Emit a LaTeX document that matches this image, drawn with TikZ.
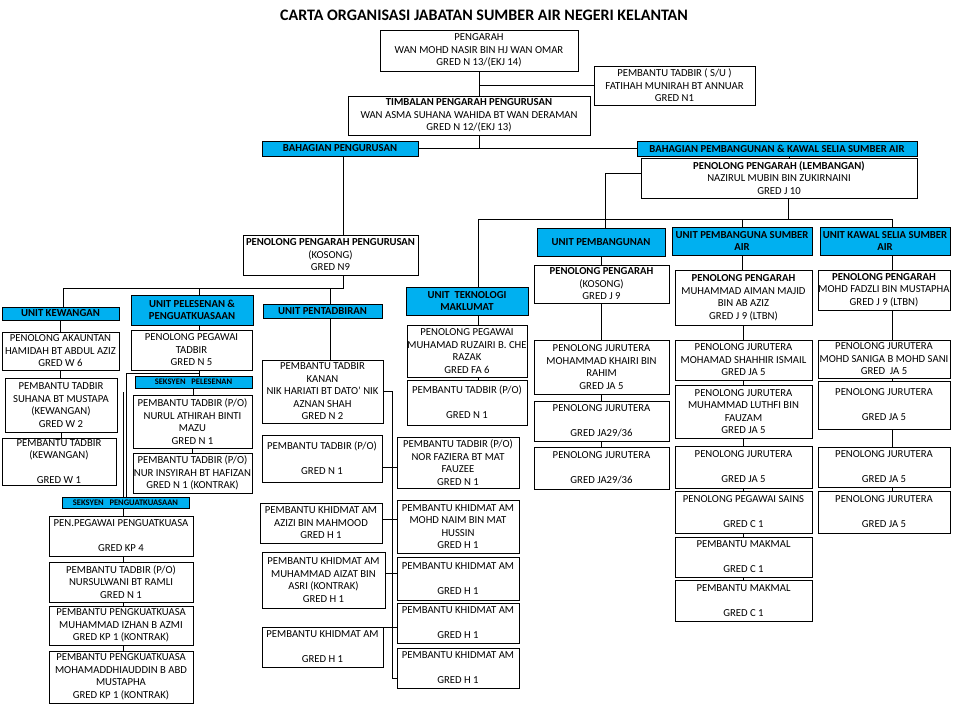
\documentclass[tikz,border=0pt]{standalone}
\usepackage{fontspec}
\setmainfont{Carlito}
\usepackage{tikz}
\definecolor{biru}{HTML}{00B0F0}
\tikzstyle{kotak} = [draw, line width=0.8pt, align=center, inner sep=0.5pt, font=\fontsize{10.7}{12.5}\selectfont]
\tikzstyle{kepala} = [kotak, fill=biru, font=\fontsize{10.7}{12.5}\selectfont\bfseries]
\tikzstyle{seksyen} = [kotak, fill=biru, font=\fontsize{8.5}{10}\selectfont\bfseries]
\tikzstyle{garis} = [draw, line width=0.9pt]
\begin{document}
\begin{tikzpicture}[x=1pt, y=-1pt]
            \useasboundingbox (0,0) rectangle (960,720);
            \fill [white] (0,0) rectangle (960,720);
                \node [font=\fontsize{16}{18}\selectfont\bfseries] (judul) at (484,15) {CARTA ORGANISASI JABATAN SUMBER AIR NEGERI KELANTAN};
                \node [kotak, minimum width=198, minimum height=41] (pengarah) at (479,50.5) {PENGARAH\\WAN MOHD NASIR BIN HJ WAN OMAR\\GRED N 13/(EKJ 14)};
                \node [kotak, minimum width=161, minimum height=39] (pts) at (674.5,85.5) {PEMBANTU TADBIR ( S/U )\\FATIHAH MUNIRAH BT ANNUAR\\GRED N1};
                \node [kotak, minimum width=242, minimum height=39] (timbalan) at (469,115.5) {\textbf{TIMBALAN PENGARAH PENGURUSAN}\\WAN ASMA SUHANA WAHIDA BT WAN DERAMAN\\GRED N 12/(EKJ 13)};
                \node [kepala, minimum width=156, minimum height=15] (bpeng) at (340,148.5) {BAHAGIAN PENGURUSAN};
                \node [kepala, minimum width=280, minimum height=15] (bpkw) at (777,148.5) {BAHAGIAN PEMBANGUNAN \& KAWAL SELIA SUMBER AIR};
                \node [kotak, minimum width=276, minimum height=40] (lembangan) at (779,178) {\textbf{PENOLONG PENGARAH (LEMBANGAN)}\\NAZIRUL MUBIN BIN ZUKIRNAINI\\GRED J 10};
                \node [kotak, minimum width=175, minimum height=40] (ppp) at (330.5,255) {\textbf{PENOLONG PENGARAH PENGURUSAN}\\(KOSONG)\\GRED N9};
                \node [kepala, minimum width=117, minimum height=13] (ukew) at (60.5,313.5) {UNIT KEWANGAN};
                \node [kepala, minimum width=122, minimum height=30] (upel) at (192,310) {UNIT PELESENAN \&\\PENGUATKUASAAN};
                \node [kepala, minimum width=119, minimum height=14] (upen) at (322.5,311) {UNIT PENTADBIRAN};
                \node [kotak, minimum width=117, minimum height=38] (hamidah) at (60.5,351) {PENOLONG AKAUNTAN\\HAMIDAH BT ABDUL AZIZ\\GRED W 6};
                \node [kotak, minimum width=112, minimum height=54] (suhana) at (61,405) {PEMBANTU TADBIR\\SUHANA BT MUSTAPA\\(KEWANGAN)\\GRED W 2};
                \node [kotak, minimum width=114, minimum height=47] (kewsatu) at (59,461.5) {PEMBANTU TADBIR\\(KEWANGAN)\\[12.5pt]GRED W 1};
                \node [kotak, minimum width=121, minimum height=40] (ppt) at (191.5,350) {PENOLONG PEGAWAI\\TADBIR\\GRED N 5};
                \node [seksyen, minimum width=117, minimum height=12] (spel) at (193.5,382) {SEKSYEN~~~PELESENAN};
                \node [kotak, minimum width=119, minimum height=53] (nurul) at (192.5,421.5) {PEMBANTU TADBIR (P/O)\\NURUL ATHIRAH BINTI\\MAZU\\GRED N 1};
                \node [kotak, minimum width=119, minimum height=40] (insyirah) at (192.5,473) {PEMBANTU TADBIR (P/O)\\NUR INSYIRAH BT HAFIZAN\\GRED N 1 (KONTRAK)};
                \node [seksyen, minimum width=127, minimum height=11] (spen) at (125.5,502.5) {SEKSYEN~~~PENGUATKUASAAN};
                \node [kotak, minimum width=144, minimum height=40] (pppk) at (121,536) {PEN.PEGAWAI PENGUATKUASA\\[12.5pt]GRED KP 4};
                \node [kotak, minimum width=144, minimum height=40] (nursulwani) at (121,582) {PEMBANTU TADBIR (P/O)\\NURSULWANI BT RAMLI\\GRED N 1};
                \node [kotak, minimum width=144, minimum height=39] (izhan) at (121,625.5) {PEMBANTU PENGKUATKUASA\\MUHAMMAD IZHAN B AZMI\\GRED KP 1 (KONTRAK)};
                \node [kotak, minimum width=144, minimum height=52] (dhiauddin) at (121,677) {PEMBANTU PENGKUATKUASA\\MOHAMADDHIAUDDIN B ABD\\MUSTAPHA\\GRED KP 1 (KONTRAK)};
                \node [kotak, minimum width=121, minimum height=63] (kanan) at (322.5,391.5) {PEMBANTU TADBIR\\KANAN\\NIK HARIATI BT DATO' NIK\\AZNAN SHAH\\GRED N 2};
                \node [kotak, minimum width=120, minimum height=47] (ptpo) at (322,458.5) {PEMBANTU TADBIR (P/O)\\[12.5pt]GRED N 1};
                \node [kotak, minimum width=122, minimum height=40] (azizi) at (321,523) {PEMBANTU KHIDMAT AM\\AZIZI BIN MAHMOOD\\GRED H 1};
                \node [kotak, minimum width=123, minimum height=56] (aizat) at (323.5,580) {PEMBANTU KHIDMAT AM\\MUHAMMAD AIZAT BIN\\ASRI (KONTRAK)\\GRED H 1};
                \node [kotak, minimum width=121, minimum height=40] (khkiri) at (322.5,647) {PEMBANTU KHIDMAT AM\\[12.5pt]GRED H 1};
                \node [kepala, minimum width=122, minimum height=28] (utm) at (467,301) {UNIT~~TEKNOLOGI\\MAKLUMAT};
                \node [kotak, minimum width=120, minimum height=52] (ruzairi) at (467,351) {PENOLONG PEGAWAI\\MUHAMAD RUZAIRI B. CHE\\RAZAK\\GRED FA 6};
                \node [kotak, minimum width=120, minimum height=45] (ptpotm) at (467,402.5) {PEMBANTU TADBIR (P/O)\\[12.5pt]GRED N 1};
                \node [kotak, minimum width=122, minimum height=51] (faziera) at (458,462.5) {PEMBANTU TADBIR (P/O)\\NOR FAZIERA BT MAT\\FAUZEE\\GRED N 1};
                \node [kotak, minimum width=122, minimum height=53] (naim) at (458,526.5) {PEMBANTU KHIDMAT AM\\MOHD NAIM BIN MAT\\HUSSIN\\GRED H 1};
                \node [kotak, minimum width=122, minimum height=43] (khdua) at (458,578.5) {PEMBANTU KHIDMAT AM\\[12.5pt]GRED H 1};
                \node [kotak, minimum width=122, minimum height=40] (khtiga) at (458,623) {PEMBANTU KHIDMAT AM\\[12.5pt]GRED H 1};
                \node [kotak, minimum width=122, minimum height=40] (khempat) at (458,668) {PEMBANTU KHIDMAT AM\\[12.5pt]GRED H 1};
                \node [kepala, minimum width=128, minimum height=28] (upem) at (601,242) {UNIT PEMBANGUNAN};
                \node [kepala, minimum width=140, minimum height=28] (upsa) at (742,241) {UNIT PEMBANGUNA SUMBER\\AIR};
                \node [kepala, minimum width=130, minimum height=28] (uks) at (885,241) {UNIT KAWAL SELIA SUMBER\\AIR};
                \node [kotak, minimum width=135, minimum height=38] (kosong) at (601.5,284) {\textbf{PENOLONG PENGARAH}\\(KOSONG)\\GRED J 9};
                \node [kotak, minimum width=135, minimum height=54] (khairi) at (601.5,367) {PENOLONG JURUTERA\\MOHAMMAD KHAIRI BIN\\RAHIM\\GRED JA 5};
                \node [kotak, minimum width=135, minimum height=40] (jasatu) at (601.5,421) {PENOLONG JURUTERA\\[12.5pt]GRED JA29/36};
                \node [kotak, minimum width=135, minimum height=42] (jadua) at (601.5,468) {PENOLONG JURUTERA\\[12.5pt]GRED JA29/36};
                \node [kotak, minimum width=137, minimum height=55] (aiman) at (743.5,297.5) {\textbf{PENOLONG PENGARAH}\\MUHAMMAD AIMAN MAJID\\BIN AB AZIZ\\GRED J 9 (LTBN)};
                \node [kotak, minimum width=137, minimum height=40] (shahhir) at (743.5,360) {PENOLONG JURUTERA\\MOHAMAD SHAHHIR ISMAIL\\GRED JA 5};
                \node [kotak, minimum width=137, minimum height=53] (luthfi) at (743.5,411.5) {PENOLONG JURUTERA\\MUHAMMAD LUTHFI BIN\\FAUZAM\\GRED JA 5};
                \node [kotak, minimum width=137, minimum height=42] (jaa) at (743.5,467) {PENOLONG JURUTERA\\[12.5pt]GRED JA 5};
                \node [kotak, minimum width=137, minimum height=42] (sains) at (743.5,512) {PENOLONG PEGAWAI SAINS\\[12.5pt]GRED C 1};
                \node [kotak, minimum width=137, minimum height=40] (makmala) at (743.5,557) {PEMBANTU MAKMAL\\[12.5pt]GRED C 1};
                \node [kotak, minimum width=137, minimum height=41] (makmalb) at (743.5,600.5) {PEMBANTU MAKMAL\\[12.5pt]GRED C 1};
                \node [kotak, minimum width=132, minimum height=40] (fadzli) at (884,290) {\textbf{PENOLONG PENGARAH}\\MOHD FADZLI BIN MUSTAPHA\\GRED J 9 (LTBN)};
                \node [kotak, minimum width=132, minimum height=38] (saniga) at (884,359) {PENOLONG JURUTERA\\MOHD SANIGA B MOHD SANI\\GRED~~JA 5};
                \node [kotak, minimum width=132, minimum height=48] (jab) at (884,405) {PENOLONG JURUTERA\\[12.5pt]GRED JA 5};
                \node [kotak, minimum width=132, minimum height=40] (jac) at (884,467) {PENOLONG JURUTERA\\[12.5pt]GRED JA 5};
                \node [kotak, minimum width=132, minimum height=42] (jad) at (884,512) {PENOLONG JURUTERA\\[12.5pt]GRED JA 5};
                \coordinate (xlemb) at (789,0);
                \coordinate (bustm) at (478,219);
                \coordinate (buslemb) at (788,219);
                \coordinate (busks) at (892,219);
                \coordinate (busppp) at (343,288);
                \coordinate (buskew) at (63,288);
                \coordinate (buspel) at (199,288);
                \coordinate (buspen) at (330,288);
                \coordinate (pgsatu) at (126,373);
                \coordinate (pgdua) at (123,392);
                \coordinate (busbawah) at (392,678);
                \path [garis] (pengarah.south) -- (pengarah.south |- timbalan.north);
                \path [garis] (pengarah.south |- pts.west) -- (pts.west);
                \path [garis] (pengarah.south |- timbalan.south) -- (pengarah.south |- bpeng.east);
                \path [garis] (bpeng.east) -- (bpkw.west);
                \path [garis] (bpkw.south -| xlemb) -- (lembangan.north -| xlemb);
                \path [garis] (lembangan.south -| buslemb) -- (buslemb);
                \path [garis] (utm.north -| bustm) -- (bustm) -- (busks) -- (uks.north -| busks);
                \path [garis] (upsa.north) -- (upsa.north |- bustm);
                \path [garis] ([yshift=5pt]lembangan.west) -| ([xshift=4pt]upem.north);
                \path [garis] (utm.south -| bustm) -- (ruzairi.north -| bustm);
                \path [garis] (ruzairi.south -| bustm) -- (ptpotm.north -| bustm);
                \path [garis] (bpeng.south -| busppp) -- (ppp.north -| busppp);
                \path [garis] (ppp.south -| busppp) -- (busppp) -- (buskew) -- (ukew.north -| buskew);
                \path [garis] (buspel) -- (upel.north -| buspel);
                \path [garis] (buspen) -- (upen.north -| buspen);
                \path [garis] (upel.south -| buspel) -- (ppt.north -| buspel);
                \path [garis] (ppt.south -| buspel) -- (spel.north -| buspel);
                \path [garis] (buspel |- pgsatu) -- (pgsatu) -- (spen.north -| pgsatu);
                \path [garis] (pgdua) -- (spen.north -| pgdua);
                \path [garis] (upen.south -| buspen) -- (kanan.north -| buspen);
                \path [garis] (kanan.east) -| (busbawah) -- (khempat.west |- busbawah);
                \foreach \y/\a/\b in {467/ptpo/faziera, 519/azizi/naim, 573/aizat/khdua, 627/khkiri/khtiga} {
                    \coordinate (cabang) at (392,\y);
                    \path [garis] (\a.east |- cabang) -- (\b.west |- cabang);
                }
                \foreach \a/\b in {ukew/hamidah, hamidah/suhana, suhana/kewsatu, spel/nurul, nurul/insyirah, upem/kosong, kosong/khairi, khairi/jasatu, jasatu/jadua, upsa/aiman, aiman/shahhir, shahhir/luthfi, luthfi/jaa, jaa/sains, sains/makmala, makmala/makmalb}
                    \path [garis] (\a.south) -- (\a.south |- \b.north);
                \foreach \a/\b in {spen/pppk, pppk/nursulwani, nursulwani/izhan, izhan/dhiauddin}
                    \path [garis] (\a.south -| pgdua) -- (\b.north -| pgdua);
                \foreach \a/\b in {uks/fadzli, fadzli/saniga, saniga/jab, jab/jac, jac/jad}
                    \path [garis] (\a.south -| busks) -- (\b.north -| busks);
\end{tikzpicture}
\end{document}
